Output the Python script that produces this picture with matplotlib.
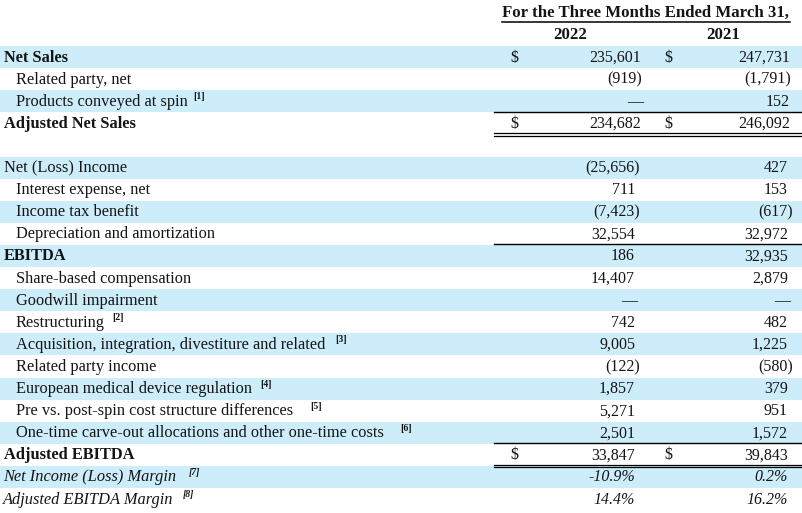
import matplotlib.pyplot as plt

plt.rcParams['font.family'] = ['Liberation Serif', 'DejaVu Serif']

title = "For the Three Months Ended March 31,"
years = ["2022", "2021"]

row_labels = ["Net Sales", "Related party, net", "Products conveyed at spin",
              "Adjusted Net Sales", "",
              "Net (Loss) Income", "Interest expense, net", "Income tax benefit",
              "Depreciation and amortization", "EBITDA", "Share-based compensation",
              "Goodwill impairment", "Restructuring",
              "Acquisition, integration, divestiture and related",
              "Related party income", "European medical device regulation",
              "Pre vs. post-spin cost structure differences",
              "One-time carve-out allocations and other one-time costs",
              "Adjusted EBITDA", "Net Income (Loss) Margin", "Adjusted EBITDA Margin"]
notes = ["", "", "[1]", "", "", "", "", "", "", "", "", "", "[2]", "[3]", "",
         "[4]", "[5]", "[6]", "", "[7]", "[8]"]
v2022 = ["235,601", "(919)", "—", "234,682", "", "(25,656)", "711", "(7,423)",
         "32,554", "186", "14,407", "—", "742", "9,005", "(122)", "1,857",
         "5,271", "2,501", "33,847", "-10.9%", "14.4%"]
v2021 = ["247,731", "(1,791)", "152", "246,092", "", "427", "153", "(617)",
         "32,972", "32,935", "2,879", "—", "482", "1,225", "(580)", "379",
         "951", "1,572", "39,843", "0.2%", "16.2%"]

bold_rows = [0, 3, 9, 18]
italic_rows = [19, 20]
plain_rows = [5]
dollar_rows = [0, 3, 18]
shaded_rows = [0, 2, 5, 7, 9, 11, 13, 15, 17, 19]

# layout (pixels)
note_x = {2: 193, 12: 112, 13: 335, 15: 260, 16: 310, 17: 400, 19: 189, 20: 183}
top = 46
step = 22.1
blue = '#cdedfa'
ink = '#141414'
fs = 11.8

fig = plt.figure(figsize=(8.02, 5.13), dpi=100)
ax = fig.add_axes([0, 0, 1, 1])
ax.set_xlim(0, 802)
ax.set_ylim(513, 0)
ax.axis('off')

# header
ax.text(645, 13, title, ha='center', va='center', fontsize=12.1, weight='bold', color=ink)
ax.plot([502, 790], [22, 22], color='black', lw=1.1)
ax.text(570, 35, years[0], ha='center', va='center', fontsize=12.1, weight='bold', color=ink)
ax.text(723, 35, years[1], ha='center', va='center', fontsize=12.1, weight='bold', color=ink)

for i, lab in enumerate(row_labels):
    y0 = top + i * step
    yc = y0 + step / 2 + 0.5
    if i in shaded_rows:
        ax.fill_between([0, 802], y0, y0 + step, color=blue, lw=0)
    if lab == "":
        continue
    weight, style, x = 'normal', 'normal', 16
    if i in bold_rows:
        weight, x = 'bold', 4
    elif i in italic_rows:
        style, x = 'italic', 3
    elif i in plain_rows:
        x = 4
    ax.text(x, yc, lab, ha='left', va='center', fontsize=fs, weight=weight,
            style=style, color=ink)
    if notes[i]:
        ax.text(note_x[i], yc - 5, notes[i], ha='left', va='center', fontsize=7,
                weight='bold', style=style, color=ink)

    neg = (i >= 5)
    for val, xr in ((v2022[i], 641 if not neg else 635), (v2021[i], 790 if not neg else 788)):
        dx = 0
        if val.startswith('('):
            dx = 5 if neg else 1
        elif val == '—':
            dx = 2
        ax.text(xr + dx, yc, val, ha='right', va='center', fontsize=11.5,
                style=style, color=ink)
    if i in dollar_rows:
        ax.text(514, yc, "$", ha='center', va='center', fontsize=11.5, color=ink)
        ax.text(668, yc, "$", ha='center', va='center', fontsize=11.5, color=ink)

# rules
def rule(after_row, double=False):
    y = top + (after_row + 1) * step
    if double:
        ax.plot([494, 802], [y - 1, y - 1], color='black', lw=0.9)
        ax.plot([494, 802], [y + 1.3, y + 1.3], color='black', lw=0.9)
    else:
        ax.plot([494, 802], [y - 0.8, y - 0.8], color='black', lw=1.0)

rule(2)
rule(3, double=True)
rule(8)
rule(17)
rule(18, double=True)

fig.savefig('out.png', dpi=100)
